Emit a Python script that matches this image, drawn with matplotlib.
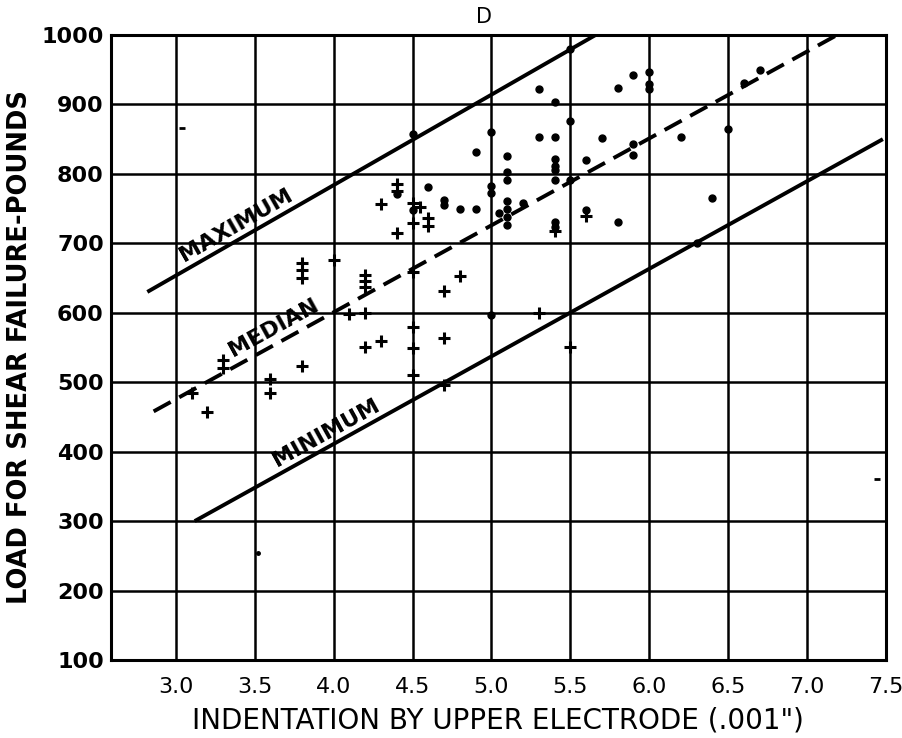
import numpy as np
import matplotlib
matplotlib.use("Agg")
import matplotlib.pyplot as plt

# indentation (.001") and shear load (lb) for welds marked with a cross
cross_x = [3.1, 3.2, 3.3, 3.3, 3.6, 3.6, 3.8, 3.8, 3.8, 3.8,
           4.0, 4.1, 4.2, 4.2, 4.2, 4.2, 4.2, 4.3, 4.3, 4.4,
           4.4, 4.4, 4.5, 4.5, 4.5, 4.5, 4.5, 4.5, 4.55, 4.6,
           4.6, 4.7, 4.7, 4.7, 4.8, 5.3, 5.4, 5.5, 5.6]
cross_y = [485, 457, 532, 520, 505, 485, 672, 661, 650, 523,
           676, 598, 600, 655, 646, 637, 550, 560, 756, 786,
           776, 715, 758, 729, 659, 580, 549, 511, 753, 736,
           725, 632, 564, 496, 653, 599, 718, 551, 739]

# welds marked with a dot
dot_x = [4.4, 4.5, 4.5, 4.6, 4.7, 4.7, 4.8, 4.9, 4.9, 5.0,
         5.0, 5.0, 5.0, 5.05, 5.1, 5.1, 5.1, 5.1, 5.1, 5.1,
         5.1, 5.2, 5.3, 5.3, 5.4, 5.4, 5.4, 5.4, 5.4, 5.4,
         5.4, 5.4, 5.5, 5.5, 5.5, 5.6, 5.6, 5.7, 5.8, 5.8,
         5.9, 5.9, 5.9, 6.0, 6.0, 6.0, 6.2, 6.3, 6.4, 6.5,
         6.6, 6.7]
dot_y = [771, 857, 748, 781, 763, 755, 750, 750, 832, 861,
         782, 772, 597, 743, 826, 803, 791, 761, 750, 738,
         726, 758, 922, 853, 904, 853, 822, 812, 805, 791,
         731, 724, 980, 876, 791, 820, 748, 851, 923, 731,
         943, 843, 827, 947, 929, 922, 853, 701, 765, 864,
         931, 949]

# stray short marks and a faint speck
tick_x = [3.04, 7.44]
tick_y = [866, 361]
speck_x = [3.52]
speck_y = [254]

# limit lines
max_x, max_y = [2.82, 5.66], [630, 1000]
med_x, med_y = [2.86, 7.19], [458, 1000]
min_x, min_y = [3.12, 7.48], [300, 850]

xticks = [3.0, 3.5, 4.0, 4.5, 5.0, 5.5, 6.0, 6.5, 7.0, 7.5]
yticks = [100, 200, 300, 400, 500, 600, 700, 800, 900, 1000]

fig = plt.figure(figsize=(9.03, 7.38), dpi=100)
ax = fig.add_axes([0.1226, 0.1057, 0.8586, 0.8469])
ax.set_xlim(2.588, 7.5)
ax.set_ylim(100, 1000)

ax.set_xticks(xticks)
ax.set_xticklabels(['%.1f' % v for v in xticks], fontsize=16)
ax.set_yticks(yticks)
ax.set_yticklabels([str(v) for v in yticks], fontsize=16, fontweight='bold')
ax.tick_params(axis='both', length=0)
ax.tick_params(axis='x', pad=12)
ax.tick_params(axis='y', pad=5)
ax.grid(True, color='black', linewidth=1.8)
ax.set_axisbelow(True)
for s in ax.spines.values():
    s.set_linewidth(2.2)

ax.plot(max_x, max_y, color='black', lw=2.8, solid_capstyle='butt')
ax.plot(med_x, med_y, color='black', lw=2.8, ls=(0, (5, 2.5)))
ax.plot(min_x, min_y, color='black', lw=2.8, solid_capstyle='butt')

ax.plot(cross_x, cross_y, ls='none', marker='+', ms=9, mew=2.2, color='black')
ax.plot(dot_x, dot_y, ls='none', marker='o', ms=5, color='black')
ax.plot(tick_x, tick_y, ls='none', marker='_', ms=5, mew=2, color='black')
ax.plot(speck_x, speck_y, ls='none', marker='o', ms=2.5, color='black')


def line_angle(xs, ys):
    p = ax.transData.transform(np.column_stack([xs, ys]))
    return np.degrees(np.arctan2(p[1, 1] - p[0, 1], p[1, 0] - p[0, 0]))


ax.text(3.38, 726, 'MAXIMUM', rotation=line_angle(max_x, max_y),
        ha='center', va='center', rotation_mode='anchor',
        fontsize=16, fontweight='bold')
ax.text(3.62, 578, 'MEDIAN', rotation=line_angle(med_x, med_y),
        ha='center', va='center', rotation_mode='anchor',
        fontsize=16, fontweight='bold')
ax.text(3.95, 427, 'MINIMUM', rotation=line_angle(min_x, min_y),
        ha='center', va='center', rotation_mode='anchor',
        fontsize=16, fontweight='bold')

ax.text(4.95, 1.012, 'D', transform=ax.get_xaxis_transform(),
        ha='center', va='bottom', fontsize=15)

ax.set_xlabel('INDENTATION BY UPPER ELECTRODE (.001")', fontsize=20, labelpad=7)
ax.set_ylabel('LOAD FOR SHEAR FAILURE-POUNDS', fontsize=18.5,
              fontweight='bold', labelpad=6)

fig.savefig('out.png', dpi=100)
